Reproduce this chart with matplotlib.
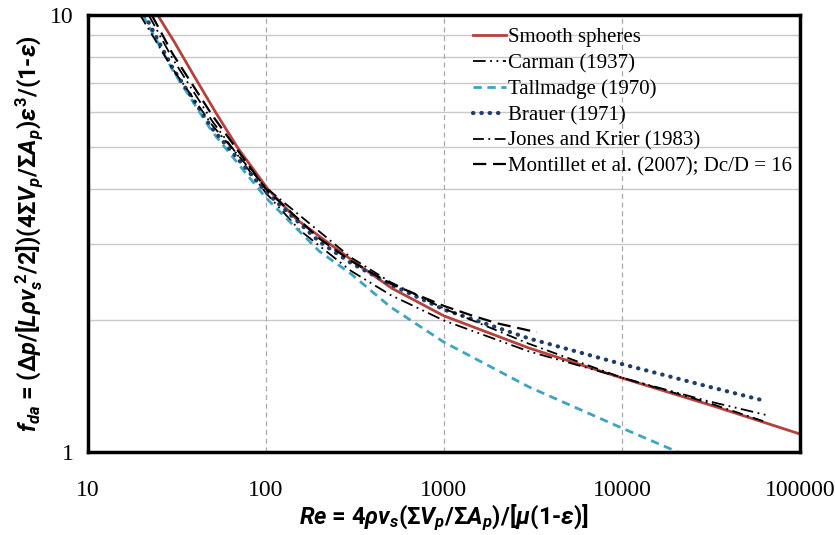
import matplotlib
matplotlib.use('Agg')
import matplotlib.pyplot as plt
from matplotlib.ticker import FixedLocator, NullFormatter, FixedFormatter

# Data (Re, f_da)
smooth_re = [24.7, 30.8, 40, 52.8, 70, 102.6, 150, 203.6, 308, 511, 1000, 3006, 9860, 31600, 100000]
smooth_f = [10.0, 8.65, 7.2, 5.95, 4.95, 4.0, 3.4, 3.1, 2.74, 2.37, 2.05, 1.73, 1.48, 1.28, 1.10]

carman_re = [22, 30, 50, 100, 155, 300, 500, 1000, 3000, 10000, 30000, 65000]
carman_f = [10.0, 7.94, 5.72, 3.92, 3.22, 2.6, 2.29, 2.0, 1.70, 1.48, 1.31, 1.215]

tallmadge_re = [20.4, 30, 50, 100, 200, 300, 500, 1000, 3000, 10000, 20650]
tallmadge_f = [10.0, 7.48, 5.41, 3.82, 2.88, 2.56, 2.15, 1.785, 1.41, 1.135, 1.0]

brauer_re = [20.9, 30, 50, 100, 200, 300, 500, 1000, 3000, 10000, 30000, 61200]
brauer_f = [10.0, 7.56, 5.5, 3.94, 3.03, 2.71, 2.42, 2.12, 1.82, 1.59, 1.415, 1.315]

jones_re = [19.7, 30, 50, 100, 300, 500, 1000, 3000, 10000, 30000, 65000]
jones_f = [10.0, 7.53, 5.6, 4.03, 2.79, 2.45, 2.13, 1.77, 1.48, 1.30, 1.17]

montillet_re = [22.9, 30, 50, 100, 200, 300, 500, 1000, 1456, 2000, 3330]
montillet_f = [10.0, 8.15, 5.9, 4.0, 3.08, 2.74, 2.43, 2.16, 2.05, 1.97, 1.88]

x_ticks = [10, 100, 1000, 10000, 100000]
x_tick_labels = ['10', '100', '1000', '10000', '100000']
y_ticks = [1, 10]
y_tick_labels = ['1', '10']
y_grid = [2, 3, 4, 5, 6, 7, 8, 9]

plt.rcParams['mathtext.fontset'] = 'custom'
plt.rcParams['mathtext.rm'] = 'Roboto:bold'
plt.rcParams['mathtext.it'] = 'Roboto:italic:bold'
plt.rcParams['mathtext.bf'] = 'Roboto:bold'

fig = plt.figure(figsize=(8.35, 5.35), dpi=100)
ax = fig.add_axes([0.105, 0.155, 0.853, 0.817])

ax.set_xscale('log')
ax.set_yscale('log')
ax.set_xlim(10, 100000)
ax.set_ylim(1, 10)

# grid
for g in y_grid:
    ax.axhline(g, color='#c8c8c8', lw=1.0, zorder=0)
for g in x_ticks[1:-1]:
    ax.axvline(g, color='#a8a8a8', lw=0.9, ls=(0, (4, 3)), zorder=0)

ax.plot(smooth_re, smooth_f, color='#b5403c', lw=2.0, label='Smooth spheres')
ax.plot(carman_re, carman_f, color='black', lw=1.3, ls=(0, (7, 2.5, 1, 2.5, 1, 2.5)), label='Carman (1937)')
ax.plot(tallmadge_re, tallmadge_f, color='#3ea4bf', lw=2.0, ls=(0, (3, 2)), label='Tallmadge (1970)')
ax.plot(brauer_re, brauer_f, color='#1f3d6b', lw=3.0, ls=(0, (0.1, 1.9)), dash_capstyle='round', label='Brauer (1971)')
ax.plot(jones_re, jones_f, color='black', lw=1.3, ls=(0, (6, 2.5, 1, 2.5)), label='Jones and Krier (1983)')
ax.plot(montillet_re, montillet_f, color='black', lw=1.6, ls=(0, (6, 3)), label='Montillet et al. (2007); Dc/D = 16')

ax.xaxis.set_major_locator(FixedLocator(x_ticks))
ax.xaxis.set_major_formatter(FixedFormatter(x_tick_labels))
ax.xaxis.set_minor_formatter(NullFormatter())
ax.yaxis.set_major_locator(FixedLocator(y_ticks))
ax.yaxis.set_major_formatter(FixedFormatter(y_tick_labels))
ax.yaxis.set_minor_formatter(NullFormatter())
ax.tick_params(which='both', length=0)
ax.tick_params(axis='x', pad=20, labelsize=17)
ax.tick_params(axis='y', pad=10, labelsize=17)
for lab in ax.get_xticklabels() + ax.get_yticklabels():
    lab.set_fontfamily('Liberation Serif')

for s in ax.spines.values():
    s.set_linewidth(2.5)

ax.set_xlabel(r'$Re$ = 4$\rho v_s$(Σ$V_p$/Σ$A_p$)/[$\mu$(1-$\varepsilon$)]',
              fontfamily='Roboto', fontweight='bold', fontsize=17, labelpad=1)
ax.set_ylabel(r'$f_{da}$ = (Δ$p$/[$L\rho v_s^{\ 2}$/2])(4Σ$V_p$/Σ$A_p$)$\varepsilon^3$/(1-$\varepsilon$)',
              fontfamily='Roboto', fontweight='bold', fontsize=17, labelpad=4)

leg = ax.legend(loc='upper left', bbox_to_anchor=(0.52, 1.004), frameon=False,
                prop={'family': 'Liberation Serif', 'size': 15},
                handlelength=1.6, handletextpad=0.1, labelspacing=0.3, borderpad=0.2)

fig.savefig('out.png', dpi=100)
